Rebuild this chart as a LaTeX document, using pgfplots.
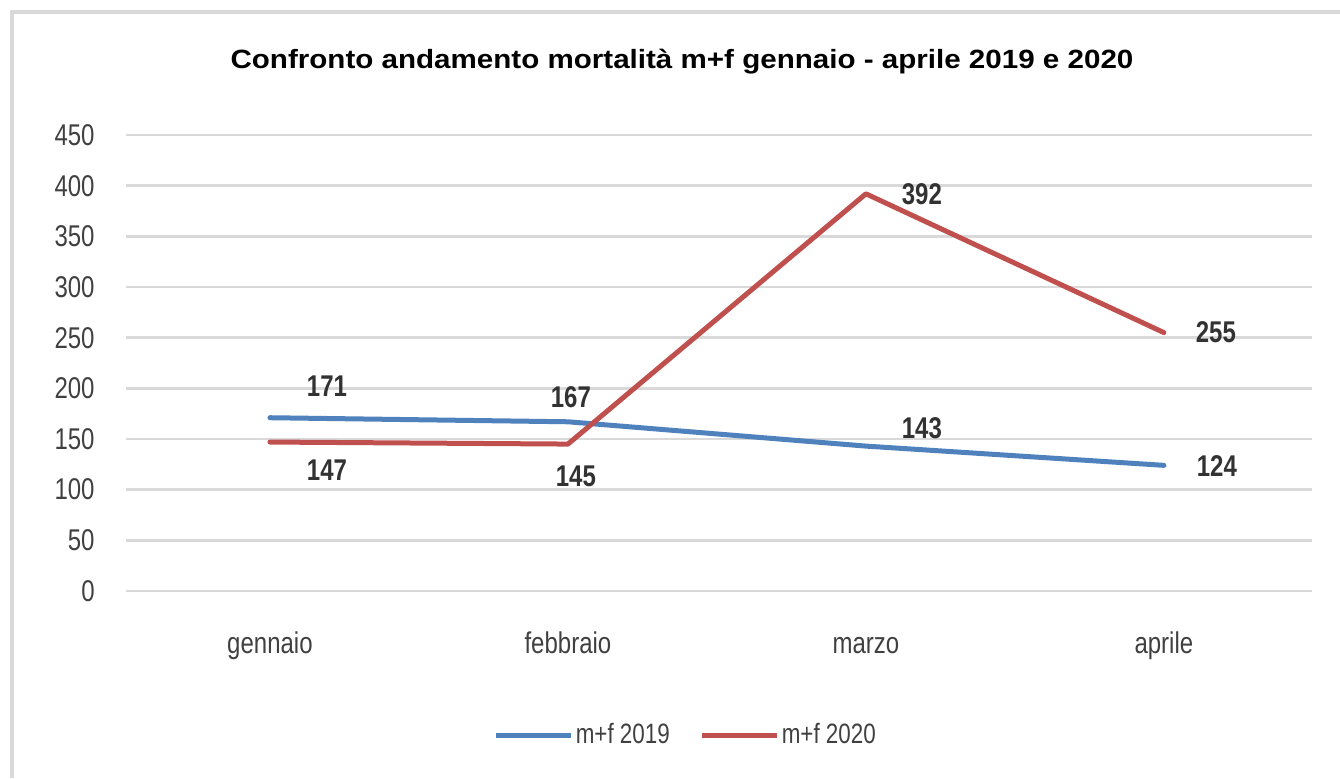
\documentclass[border=0pt]{standalone}
\usepackage{pgfplots}
\pgfplotsset{compat=1.18}
\usepackage{fontspec}
\setmainfont{Liberation Sans}
\newfontfamily\narrow{Liberation Sans}[FakeStretch=0.8]
\newfontfamily\wide{Liberation Sans}[FakeStretch=1.12]
\definecolor{ser1}{RGB}{79,129,189}
\definecolor{ser2}{RGB}{192,80,77}
\definecolor{gridc}{RGB}{217,217,217}
\definecolor{txt}{RGB}{64,64,64}
\definecolor{lbltxt}{RGB}{50,50,50}
\tikzset{lbl/.style={font=\narrow\bfseries\fontsize{15}{18}\selectfont, text=lbltxt, inner sep=0pt, anchor=center}}
\begin{document}
\begin{tikzpicture}
\path[use as bounding box] (0,0) rectangle (670pt,389pt);
\draw[gridc, line width=2pt] (5.75pt,0) -- (5.75pt,383pt) -- (670pt,383pt);
\node[anchor=base, font=\wide\bfseries\fontsize{13.2}{15}\selectfont, text=black, inner sep=0pt] at (341pt,354.75pt) {Confronto andamento mortalità m+f gennaio - aprile 2019 e 2020};
\begin{axis}[
  at={(63pt,93.5pt)}, anchor=south west,
  scale only axis, width=593pt, height=228pt,
  xmin=-0.483, xmax=3.497, ymin=0, ymax=450,
  ytick={0,50,...,450},
  xtick={0,1,2,3}, xticklabels={gennaio,febbraio,marzo,aprile},
  axis line style={draw=none},
  tick style={draw=none},
  ymajorgrids, grid style={gridc, line width=1.3pt},
  /pgf/number format/assume math mode=true,
  ticklabel style={font=\narrow\fontsize{15}{18}\selectfont, text=txt, inner sep=0pt},
  yticklabel style={anchor=east, xshift=-15.5pt},
  xticklabel style={anchor=base, yshift=-31pt},
  clip=false,
  legend style={at={(0.472,-0.316)}, anchor=center, draw=none, fill=none,
    legend columns=2, font=\narrow\fontsize{14}{16}\selectfont, text=txt,
    nodes={inner sep=1pt},
    /tikz/every even column/.append style={column sep=14pt}},
  legend image code/.code={\draw[#1, line cap=butt] (0pt,0pt) -- (37.5pt,0pt);},
]
\addplot[ser1, line width=2.5pt, line join=round, line cap=round] coordinates {(0,171) (1,167) (2,143) (3,124)};
\addlegendentry{m+f 2019}
\addplot[ser2, line width=2.5pt, line join=round, line cap=round] coordinates {(0,147) (1,145) (2,392) (3,255)};
\addlegendentry{m+f 2020}
\node[lbl, xshift=28.5pt, yshift=15.85pt] at (axis cs:0,171) {171};
\node[lbl, xshift=1.5pt, yshift=12.15pt] at (axis cs:1,167) {167};
\node[lbl, xshift=28pt, yshift=8.8pt] at (axis cs:2,143) {143};
\node[lbl, xshift=26.5pt, yshift=-0.5pt] at (axis cs:3,124) {124};
\node[lbl, xshift=28.5pt, yshift=-14pt] at (axis cs:0,147) {147};
\node[lbl, xshift=4pt, yshift=-16.2pt] at (axis cs:1,145) {145};
\node[lbl, xshift=28pt, yshift=0pt] at (axis cs:2,392) {392};
\node[lbl, xshift=26pt, yshift=0pt] at (axis cs:3,255) {255};
\end{axis}
\end{tikzpicture}
\end{document}
